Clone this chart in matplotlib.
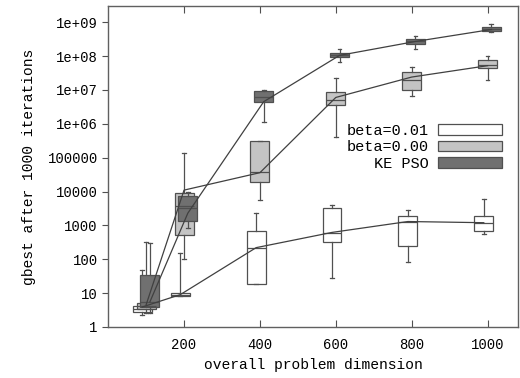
import matplotlib
matplotlib.use("Agg")
import matplotlib.pyplot as plt
from matplotlib.patches import Patch

plt.rcParams['font.family'] = ['Liberation Mono', 'DejaVu Sans Mono']

dims = [100, 200, 400, 600, 800, 1000]

# beta=0.01
w_lo = [2.2, 8.3, 18, 28, 84, 560]
w_q1 = [2.8, 8.3, 18, 330, 250, 700]
w_med = [3.5, 9, 220, 600, 1300, 1200]
w_q3 = [4.2, 10, 690, 3300, 1900, 1900]
w_hi = [49, 155, 2300, 4000, 2900, 6200]
w_line = [3.9, 9, 220, 620, 1300, 1200]

# beta=0.00
g_lo = [2.5, 100, 5700, 4.2e5, 6.8e6, 1.9e7]
g_q1 = [3.5, 530, 19500, 3.5e6, 1.0e7, 4.3e7]
g_med = [4.2, 3800, 37000, 5.2e6, 2.0e7, 5.6e7]
g_q3 = [5.0, 9100, 3.0e5, 8.4e6, 3.5e7, 7.4e7]
g_hi = [330, 1.4e5, 3.0e5, 2.3e7, 4.6e7, 9.8e7]
g_line = [4.5, 11000, 36000, 6.0e6, 2.4e7, 5.2e7]

# KE PSO
k_lo = [2.6, 850, 1.1e6, 6.9e7, 1.66e8, 5.0e8]
k_q1 = [3.9, 1370, 4.5e6, 9.1e7, 2.3e8, 5.4e8]
k_med = [5.5, 3300, 6.0e6, 1.05e8, 2.7e8, 6.1e8]
k_q3 = [35, 7500, 9.0e6, 1.26e8, 3.3e8, 7.1e8]
k_hi = [300, 10000, 1.0e7, 1.58e8, 3.8e8, 9.1e8]
k_line = [5.5, 2300, 4.5e6, 1.05e8, 2.7e8, 6.1e8]

labels = ['beta=0.01', 'beta=0.00', 'KE PSO']
colors = ['#ffffff', '#c4c4c4', '#707070']
ytick_vals = [1, 10, 100, 1000, 10000, 100000, 1e6, 1e7, 1e8, 1e9]
ytick_labels = ['1', '10', '100', '1000', '10000', '100000',
                '1e+06', '1e+07', '1e+08', '1e+09']

series = [
    (w_lo, w_q1, w_med, w_q3, w_hi, w_line, -10),
    (g_lo, g_q1, g_med, g_q3, g_hi, g_line, 0),
    (k_lo, k_q1, k_med, k_q3, k_hi, k_line, 10),
]

fig = plt.figure(figsize=(5.2, 3.78), dpi=100)
ax = fig.add_axes([0.208, 0.135, 0.788, 0.849])
edge = '#505050'

for (lo, q1, med, q3, hi, line, off), col in zip(series, colors):
    pos = [d + off for d in dims]
    stats = [dict(whislo=a, q1=b, med=c, q3=d, whishi=e)
             for a, b, c, d, e in zip(lo, q1, med, q3, hi)]
    ax.bxp(stats, positions=pos, widths=50, showfliers=False,
           patch_artist=True, manage_ticks=False,
           boxprops=dict(facecolor=col, edgecolor=edge, linewidth=0.9),
           medianprops=dict(color=edge, linewidth=0.9),
           whiskerprops=dict(color=edge, linewidth=0.9),
           capprops=dict(color=edge, linewidth=0.9), capwidths=10)
for (lo, q1, med, q3, hi, line, off) in series:
    ax.plot([d + off for d in dims], line, color='#404040', linewidth=0.9,
            zorder=5)

ax.set_yscale('log')
ax.set_ylim(1, 3.0e9)
ax.set_xlim(0, 1080)
ax.set_yticks(ytick_vals)
ax.set_yticklabels(ytick_labels)
ax.yaxis.set_minor_locator(matplotlib.ticker.NullLocator())
ax.set_xticks([200, 400, 600, 800, 1000])
ax.tick_params(axis='x', direction='in', top=True, length=5, color=edge,
               labelsize=10, pad=8)
ax.tick_params(axis='y', direction='out', length=4, color=edge, labelsize=10)
for s in ax.spines.values():
    s.set_color('#606060')
    s.set_linewidth(1.0)

ax.set_xlabel('overall problem dimension', fontsize=10.5)
ax.set_ylabel('gbest after 1000 iterations', fontsize=10.5, labelpad=8)

handles = [Patch(facecolor=c, edgecolor=edge, linewidth=0.9) for c in colors]
ax.legend(handles, labels, loc='upper right', bbox_to_anchor=(0.995, 0.675),
          frameon=False, markerfirst=False, handlelength=4.2, handleheight=0.7,
          fontsize=11, labelspacing=0.15, handletextpad=0.6)

fig.savefig('out.png', dpi=100)
